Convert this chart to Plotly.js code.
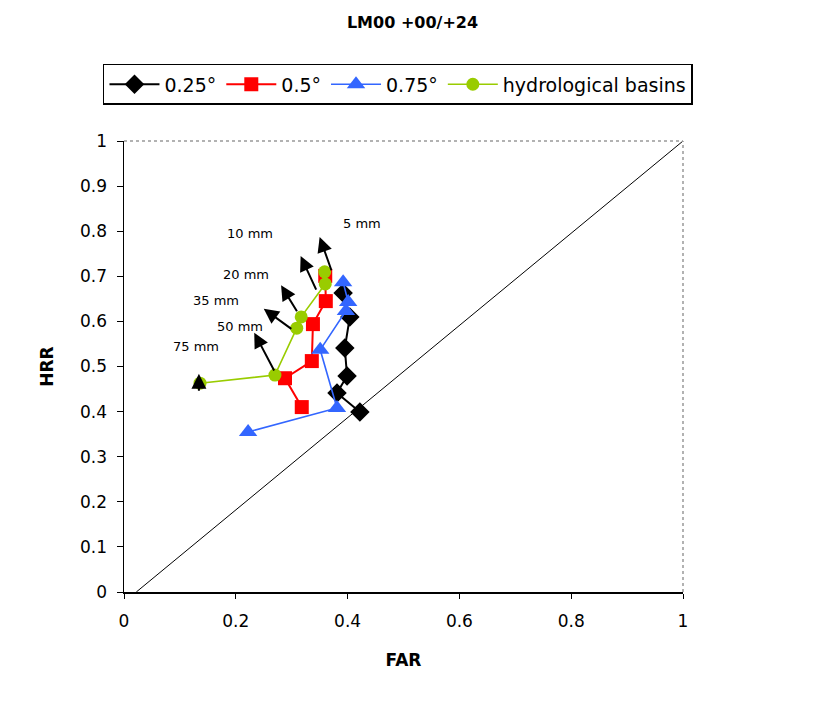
<!DOCTYPE html>
<html>
<head>
<meta charset="utf-8">
<script src="https://cdn.plot.ly/plotly-3.0.1.min.js"></script>
<style>body{margin:0;background:#fff}#chart{width:825px;height:702px}</style>
</head>
<body>
<div id="chart"></div>
<script>
// Series names
const seriesNames = ['0.25°', '0.5°', '0.75°', 'hydrological basins'];
// Thresholds (per point, in order)
const thresholds = ['5 mm', '10 mm', '20 mm', '35 mm', '50 mm', '75 mm'];
// 0.25°
const far025 = [0.392, 0.404, 0.395, 0.399, 0.381, 0.422];
const hrr025 = [0.663, 0.610, 0.541, 0.479, 0.441, 0.399];
// 0.5°
const far05 = [0.360, 0.361, 0.338, 0.336, 0.288, 0.318];
const hrr05 = [0.701, 0.645, 0.594, 0.512, 0.474, 0.410];
// 0.75°
const far075 = [0.392, 0.401, 0.397, 0.351, 0.381, 0.222];
const hrr075 = [0.687, 0.643, 0.623, 0.537, 0.408, 0.355];
// hydrological basins
const farHyd = [0.359, 0.360, 0.317, 0.309, 0.270, 0.136];
const hrrHyd = [0.710, 0.683, 0.610, 0.585, 0.481, 0.463];
// threshold arrows (tail -> head) and label anchors
const arrowTailX = [0.372, 0.345, 0.311, 0.302, 0.270, 0.134];
const arrowTailY = [0.710, 0.667, 0.619, 0.581, 0.488, 0.443];
const arrowHeadX = [0.350, 0.316, 0.281, 0.250, 0.233, 0.134];
const arrowHeadY = [0.787, 0.745, 0.680, 0.628, 0.575, 0.484];
const labelX = [0.426, 0.225, 0.218, 0.165, 0.208, 0.129];
const labelY = [0.816, 0.796, 0.703, 0.647, 0.588, 0.545];
// reference line
const diagX = [0.022, 1];
const diagY = [0, 1];
// axis ticks
const tickVals = [0, 0.2, 0.4, 0.6, 0.8, 1];
const yTickVals = [0, 0.1, 0.2, 0.3, 0.4, 0.5, 0.6, 0.7, 0.8, 0.9, 1];

const FONT = 'DejaVu Sans, Arial, sans-serif';

const traces = [
  {x: diagX, y: diagY, mode: 'lines', line: {color: '#000', width: 1}, showlegend: false, hoverinfo: 'skip'},
  {x: far025, y: hrr025, name: seriesNames[0], mode: 'lines+markers',
   line: {color: '#000000', width: 2}, marker: {symbol: 'diamond', size: 15, color: '#000000'}},
  {x: far05, y: hrr05, name: seriesNames[1], mode: 'lines+markers',
   line: {color: '#ff0000', width: 2}, marker: {symbol: 'square', size: 14, color: '#ff0000'}},
  {x: far075, y: hrr075, name: seriesNames[2], mode: 'lines+markers',
   line: {color: '#3366ff', width: 1.6}, marker: {symbol: 'triangle-up', size: 16, color: '#3366ff'}},
  {x: farHyd, y: hrrHyd, name: seriesNames[3], mode: 'lines+markers',
   line: {color: '#99cc00', width: 1.6}, marker: {symbol: 'circle', size: 13, color: '#99cc00'}}
];

const annotations = [];
for (let i = 0; i < thresholds.length; i++) {
  annotations.push({
    x: arrowHeadX[i], y: arrowHeadY[i], xref: 'x', yref: 'y',
    ax: arrowTailX[i], ay: arrowTailY[i], axref: 'x', ayref: 'y',
    showarrow: true, arrowhead: 2, arrowsize: 1.5, arrowwidth: 2, arrowcolor: '#000', text: ''
  });
  annotations.push({
    x: labelX[i], y: labelY[i], xref: 'x', yref: 'y', text: thresholds[i], showarrow: false,
    font: {family: FONT, size: 13, color: '#000'}
  });
}

const layout = {
  width: 825, height: 702,
  margin: {l: 124, r: 142, t: 141, b: 110},
  paper_bgcolor: '#fff', plot_bgcolor: '#fff',
  font: {family: FONT, color: '#000'},
  title: {text: '<b>LM00 +00/+24</b>', font: {family: FONT, size: 16, color: '#000'},
          x: 0.5, xanchor: 'center', y: 0.968, yanchor: 'middle'},
  xaxis: {range: [0, 1], tickvals: tickVals, ticktext: tickVals.map(String), showgrid: false, zeroline: false,
          showline: true, linecolor: '#000', linewidth: 1.5, ticks: 'outside', ticklen: 5, tickcolor: '#000',
          tickfont: {family: FONT, size: 17}, ticklabelstandoff: 8,
          title: {text: '<b>FAR</b>', font: {family: FONT, size: 17}, standoff: 24}},
  yaxis: {range: [0, 1], tickvals: yTickVals, ticktext: yTickVals.map(String), showgrid: false, zeroline: false,
          showline: true, linecolor: '#000', linewidth: 1.5, ticks: 'outside', ticklen: 6, tickcolor: '#000',
          tickfont: {family: FONT, size: 17}, ticklabelstandoff: 6,
          title: {text: '<b>HRR</b>', font: {family: FONT, size: 17}, standoff: 22}},
  legend: {orientation: 'h', x: -0.0376, xanchor: 'left', y: 1.171, yanchor: 'top',
           bordercolor: '#000', borderwidth: 1.5, bgcolor: '#fff', itemwidth: 50,
           font: {family: FONT, size: 19, color: '#000'}, tracegroupgap: 0},
  shapes: [
    {type: 'line', xref: 'paper', yref: 'paper', x0: 0, x1: 1, y0: 1, y1: 1, line: {color: '#999', width: 1.5, dash: 'dot'}},
    {type: 'line', xref: 'paper', yref: 'paper', x0: 1, x1: 1, y0: 0, y1: 1, line: {color: '#999', width: 1.5, dash: 'dot'}}
  ],
  annotations: annotations
};

Plotly.newPlot('chart', traces, layout, {displayModeBar: false, staticPlot: true});
</script>
</body>
</html>
